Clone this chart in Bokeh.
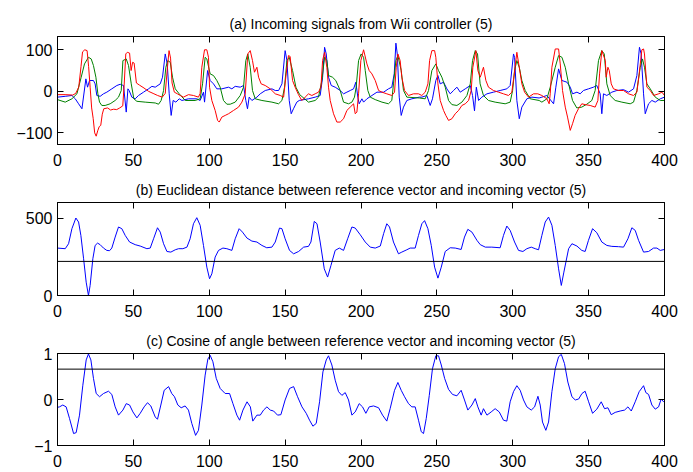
from bokeh.plotting import figure
from bokeh.layouts import column
from bokeh.models import LinearAxis, FixedTicker, Span, Range1d, CustomJSTickFormatter
from bokeh.embed import file_html
from bokeh.resources import INLINE

# ---------------- data ----------------
titles = ["(a) Incoming signals from Wii controller (5)",
          "(b) Euclidean distance between reference vector and incoming vector (5)",
          "(c) Cosine of angle between reference vector and incoming vector (5)"]
x_ticks = [0, 50, 100, 150, 200, 250, 300, 350, 400]
y_ticks_a = [-100, 0, 100]
y_ticks_b = [0, 500]
y_ticks_c = [-1, 0, 1]
dist_threshold = 220
cos_threshold = 0.66

red_x = [0, 5, 10, 12, 14, 15.5, 16.5, 18, 19.5, 20.5, 21.5, 22.5, 23.5, 24.5, 25.5, 26.5, 27.5, 28.5, 29.5, 30.5,
         33, 35, 37, 39, 41, 43, 44, 45, 46, 47.5, 48.5, 49.5, 50.5, 52, 54, 57, 60, 63, 66, 69, 71, 72.5, 73.5,
         74.5, 75.5, 77, 79, 80.9, 83.0, 86.3, 89.6, 92.9, 94.0, 95.1, 96.9, 98.4, 99.5, 100.2, 101.7, 103.9,
         105.5, 106.6, 108.3, 110.5, 112.7, 116.0, 119.3, 121.5, 123.7, 125.4, 127.0, 128.5, 129.8, 131.4, 132.5,
         134.2, 136.9, 140.2, 143.5, 146.8, 149.0, 150.7, 152.2, 153.3, 154.9, 156.6, 158.8, 161.0, 163.2, 165.4,
         167.6, 169.8, 172.0, 173.6, 174.7, 176.0, 177.5, 178.6, 179.7, 181.9, 184.1, 186.3, 188.5, 190.7, 192.9,
         195.1, 196.2, 197.3, 198.4, 199.9, 201.7, 203.9, 205.4, 207.2, 209.4, 211.6, 213.8, 217.0, 220.3, 222.1,
         223.2, 224.3, 225.8, 226.9, 228.7, 231.3, 234.6, 237.9, 240.1, 242.3, 244.1, 245.2, 246.7, 248.5, 249.3,
         250.7, 252.2, 254.4, 255.9, 257.7, 259.9, 262.1, 264.3, 266.5, 268.7, 270.9, 272.6, 273.7, 275.7, 277.0,
         278.6, 280.7, 282.3, 284.0, 287.3, 290.6, 293.9, 297.2, 299.4, 301.0, 302.7, 304.3, 306.0, 307.8, 310.4,
         313.7, 316.5, 319.2, 322.5, 324.0, 324.7, 325.8, 328.0, 330.2, 331.3, 332.8, 334.6, 336.1, 337.9, 339.4,
         341.1, 343.3, 345.5, 347.7, 351.0, 354.3, 356.1, 357.2, 358.7, 361.0, 361.6, 362.7, 363.6, 364.9, 366.4,
         369.7, 373.0, 376.3, 379.6, 381.8, 383.3, 385.1, 386.2, 386.8, 388.4, 390.6, 392.8, 396.1, 398.3, 400]
red_y = [-8, -8, -9, -5, 10, 60, 95, 100, 98, 60, 10, -40, -65, -100, -108, -95, -85, -82, -55, -42,
         -40, -45, -43, -44, -40, -35, 20, 90, 94, 92, 50, 70, 68, 20, 15, 8, 0, -5, -10, -14, -5, 60, 98,
         80, 20, -2, -6, -10, -14, -8, -10, -14, -5, 58, 100, 100, 82, 10, -22, -46,
         -70, -74, -62, -58, -54, -46, -38, -26, -6, 90, 98, 74, 46, 58, 34,
         18, 14, 6, -6, -10, -14, 42, 86, 84, 26, 10, -8, -22, -14, -6,
         -10, -6, -2, 10, 74, 94, 58, 10, -22, -54, -74, -74, -66, -46, -38,
         -30, -54, -50, -6, 74, 100, 66, 50, 42, 26, 2, -2, -6, -10, -2,
         58, 90, 74, 34, 2, -10, -6, -6, -10, -2, 18, 74, 98, 98, 82,
         18, -22, -46, -58, -70, -66, -54, -46, -34, -30, -22, 2, 58, 98, 50,
         34, 58, 26, 10, 2, -2, -6, -10, -2, 42, 94, 58, 18, -2, -14,
         -6, -6, -10, -18, -30, -6, 58, 102, 102, 66, 2, -38, -62, -94, -78,
         -58, -42, -30, -32, -34, -38, -22, 42, 98, 74, 34, 58, 50, 18, 6,
         2, 2, -6, -10, -2, 42, 100, 102, 90, 10, 2, -10, -6, -2, -10]

green_x = [0, 5.1, 9.5, 12.8, 15.6, 17.8, 20.4, 22.2, 23.7, 25.3, 26.6, 27.7, 29.2, 31.4, 34.7, 38.0, 40.2, 42.0,
           43.1, 45.3, 46.8, 48.6, 50.3, 52.3, 57.8, 64.4, 66.6, 68.3, 69.9, 71.4, 72.7, 74.3, 75.8, 77.6, 80.2,
           84.2, 90.7, 94.0, 95.6, 97.3, 98.4, 100.6, 102.8, 105.0, 107.2, 109.4, 111.6, 113.8, 117.1, 120.4, 122.6,
           124.1, 125.4, 127.0, 128.5, 130.3, 134.7, 141.3, 145.7, 147.9, 149.6, 151.2, 152.7, 154.9, 157.1, 159.6,
           165.4, 169.8, 172.0, 174.2, 176.0, 177.5, 178.6, 181.2, 183.4, 186.3, 188.5, 191.8, 194.0, 195.7, 196.8,
           198.4, 200.1, 201.7, 202.8, 204.5, 206.1, 209.4, 213.8, 218.1, 220.3, 221.4, 223.0, 224.3, 226.5, 228.0,
           230.2, 238.4, 242.3, 244.5, 246.7, 249.3, 251.1, 253.3, 255.5, 257.7, 259.9, 263.2, 266.5, 269.8, 272.0,
           273.5, 275.3, 276.8, 278.5, 280.7, 284.0, 288.4, 295.0, 298.3, 299.9, 301.2, 302.7, 304.3, 306.0, 308.2,
           311.5, 317.4, 319.2, 322.5, 324.7, 328.0, 330.2, 332.4, 334.6, 336.8, 339.4, 342.2, 345.5, 348.8, 352.1,
           354.3, 356.5, 358.7, 360.3, 362.0, 364.2, 367.5, 371.9, 377.4, 379.6, 381.8, 384.0, 385.5, 386.8, 388.4,
           390.6, 393.9, 397.2, 400]
green_y = [-20, -26, -18, -6, 34, 66, 82, 78, 62, 34, -6, -26, -34, -34, -30, -22, -14, 2,
           74, 78, 62, 18, -18, -24, -26, -28, -31, -22, 2, 58, 74, 70, 34, 6, -6,
           -22, -22, -18, 18, 82, 78, 42, 38, 26, 10, -22, -31, -31, -26, -10, 10,
           74, 90, 58, 2, -18, -22, -26, -30, -22, 10, 74, 82, 50, 10, -8,
           -26, -22, -14, 26, 82, 74, 38, 34, 26, 2, -26, -30, -26, -14, 10,
           74, 90, 82, 50, 2, -14, -20, -26, -30, -22, 18, 74, 86, 50, 2,
           -14, -16, -18, 2, 50, 66, 50, 34, 10, -22, -32, -34, -26, -10, 18,
           74, 98, 90, 18, -10, -22, -26, -30, -26, 2, 50, 74, 58, 26, 2,
           -18, -22, -26, -18, 10, 58, 86, 82, 58, 18, -22, -40, -38, -31, -22,
           2, 74, 98, 90, 18, -10, -22, -26, -30, -26, 2, 58, 78, 58, 18,
           6, -14, -22, -22]

blue_x = [0, 5.1, 9.5, 11.7, 13.9, 16.1, 18.7, 19.8, 21.1, 23.7, 24.8, 25.9, 28.1, 30.3, 32.5, 35.8, 39.1, 41.3,
          43.5, 45.3, 46.4, 47.2, 49.0, 51.2, 53.4, 56.7, 60.0, 62.2, 64.4, 67.7, 69.2, 71.0, 72.3, 73.6, 74.9,
          76.2, 78.0, 80.2, 82.0, 86.3, 91.8, 94.0, 96.2, 96.9, 98.9, 100.6, 102.8, 105.0, 108.3, 112.7, 114.9,
          117.1, 120.4, 122.6, 124.1, 125.2, 126.3, 128.1, 131.4, 133.6, 136.9, 141.3, 143.5, 145.7, 147.9, 150.0,
          151.2, 152.7, 154.0, 155.5, 157.7, 159.3, 165.4, 169.8, 173.1, 174.7, 176.0, 177.1, 178.6, 180.4, 183.0,
          186.3, 188.5, 190.7, 192.9, 195.1, 196.6, 197.9, 198.8, 200.6, 201.7, 203.9, 207.2, 210.5, 214.9, 218.1,
          220.3, 221.9, 223.0, 223.9, 225.2, 226.5, 228.0, 230.2, 233.5, 238.4, 240.1, 243.4, 245.6, 247.1, 249.3,
          250.7, 252.2, 254.4, 256.6, 258.8, 261.0, 263.2, 265.4, 268.7, 272.0, 273.5, 274.8, 276.0, 277.5, 279.6,
          283.0, 287.3, 291.7, 296.1, 298.3, 300.5, 301.2, 302.7, 304.3, 306.0, 309.3, 312.6, 317.4, 319.2, 322.5,
          326.9, 328.4, 330.2, 332.4, 335.7, 337.9, 339.4, 342.3, 344.4, 346.6, 349.9, 353.2, 355.4, 357.6, 358.7,
          359.8, 362.0, 365.3, 368.6, 373.0, 376.3, 379.6, 381.8, 383.5, 384.6, 386.2, 387.3, 389.5, 391.7, 393.9,
          397.2, 400]
blue_y = [-14, -12, -10, -18, -30, -42, 30, 10, 26, 26, 18, -10, -12, -6, -2, 6, 14, 17,
          14, -50, 6, 2, -14, -18, -10, -2, 6, 12, 10, 18, 34, 90, 66, -6, -58,
          -22, -26, -18, -22, -18, -18, -22, -2, -26, 50, 26, 18, 6, 6, 10, 6,
          12, 10, 14, -22, -42, -14, -22, -14, -6, 2, 6, 2, 2, 18, 98,
          74, -22, -54, -42, -26, -22, -18, -14, -10, 34, 106, 90, 34, 14, 10,
          2, -6, -2, 2, 6, 22, -14, -30, -18, -26, -18, -10, -2, -2, 6,
          10, 42, 116, 90, -14, -58, -38, -22, -18, -14, -14, -10, -34, -18, 26,
          38, 18, 22, 6, -6, 2, 10, -2, 6, 14, -10, -47, 10, -22, -14,
          -6, -2, 2, 6, 14, 90, 82, -22, -66, -38, -18, -14, -16, -14, -10,
          -30, 10, 54, 26, 22, 10, -6, -2, -6, 2, 6, 10, 14, -6, -54,
          -6, -10, -2, 2, 4, -2, 6, 38, 106, 90, -6, -54, -30, -22, -26,
          -18, -14]

dist_x = [0, 5.1, 7.3, 9.5, 12.1, 13.9, 15.4, 17.2, 18.9, 20.4, 21.5, 23.3, 24.8, 26.4, 28.1, 30.3, 32.5, 34.3,
          35.8, 38.0, 40.2, 42.4, 44.6, 47.5, 51.2, 54.5, 58.9, 61.1, 63.3, 65.9, 67.7, 69.9, 72.1, 74.7, 77.6,
          79.8, 82.6, 85.3, 87.4, 89.6, 91.8, 94.0, 96.2, 98.4, 100.2, 101.7, 103.9, 106.1, 109.0, 111.6, 114.9,
          117.1, 119.7, 121.9, 124.8, 128.1, 131.4, 134.7, 137.9, 141.3, 143.5, 146.3, 147.9, 150.0, 152.9, 155.6,
          158.9, 162.2, 165.4, 167.0, 169.2, 171.0, 173.1, 175.8, 178.0, 180.2, 183.0, 185.7, 188.5, 191.2, 194.0,
          196.2, 199.5, 202.8, 206.1, 209.4, 212.7, 214.9, 217.0, 218.8, 221.4, 224.7, 226.9, 230.2, 232.4, 235.7,
          237.9, 240.1, 241.9, 244.1, 246.3, 248.5, 250.7, 252.9, 255.5, 258.8, 262.1, 266.0, 268.2, 270.4, 273.1,
          276.4, 278.6, 281.9, 286.2, 291.7, 293.9, 296.1, 298.3, 301.2, 303.8, 306.7, 309.3, 312.2, 314.8, 317.0,
          319.2, 321.4, 323.6, 325.8, 328.0, 330.2, 332.0, 333.7, 336.8, 339.0, 342.3, 345.5, 347.7, 349.9, 352.6,
          355.4, 358.7, 362.0, 365.3, 369.7, 373.0, 375.9, 378.5, 380.7, 382.9, 386.2, 389.5, 392.8, 395.0, 397.2,
          400]
dist_y = [306, 302, 334, 431, 500, 474, 388, 237, 86, 0, 65, 237, 323, 338, 328, 306, 291, 289,
          306, 377, 442, 431, 388, 345, 328, 319, 302, 306, 366, 437, 409, 334, 284, 280, 295,
          302, 302, 312, 366, 463, 502, 453, 323, 183, 108, 140, 248, 291, 306, 302, 291,
          366, 431, 409, 371, 351, 345, 323, 308, 312, 345, 435, 431, 366, 291, 269,
          284, 312, 317, 345, 478, 463, 345, 172, 119, 194, 291, 306, 291, 366, 442,
          435, 392, 345, 312, 306, 319, 399, 463, 442, 345, 269, 280, 295, 306, 306,
          388, 463, 483, 431, 323, 183, 112, 183, 284, 308, 306, 297, 377, 427, 409,
          356, 328, 312, 312, 308, 388, 448, 420, 345, 291, 284, 302, 312, 302, 295,
          388, 474, 506, 453, 323, 172, 65, 151, 302, 334, 319, 291, 284, 356, 431,
          405, 345, 323, 317, 315, 312, 366, 437, 420, 356, 280, 284, 306, 306, 291,
          297]

cos_x = [0, 1.3, 3.5, 5.7, 7.9, 10.6, 12.3, 14.5, 16.7, 18.9, 20.4, 22.0, 23.7, 25.5, 27.7, 30.3, 33.6, 35.8,
         38.0, 40.2, 43.1, 45.3, 47.5, 49.7, 52.3, 54.5, 57.1, 59.3, 61.5, 64.4, 65.9, 68.1, 70.3, 73.2, 75.3,
         77.1, 79.3, 81.5, 84.1, 86.3, 88.5, 91.0, 92.9, 95.1, 97.3, 99.1, 100.6, 102.4, 104.6, 107.2, 110.5,
         113.4, 115.6, 118.2, 120.0, 122.2, 124.9, 127.1, 128.7, 131.4, 133.6, 135.8, 138.0, 140.2, 142.4, 145.0,
         147.2, 150.0, 152.9, 155.6, 158.2, 161.1, 163.9, 166.1, 168.3, 170.5, 172.7, 174.9, 177.1, 178.6, 180.8,
         183.0, 185.2, 187.4, 189.6, 191.8, 194.0, 196.2, 198.8, 201.0, 203.2, 205.4, 208.3, 211.6, 214.2, 217.0,
         219.2, 222.1, 224.3, 226.5, 228.7, 231.3, 233.5, 235.7, 237.9, 239.7, 241.2, 243.0, 245.0, 247.1, 249.3,
         251.1, 252.9, 255.1, 257.7, 260.3, 263.2, 266.0, 268.2, 270.4, 273.1, 275.3, 277.0, 279.2, 280.7, 283.0,
         285.8, 288.4, 291.1, 293.9, 296.1, 298.3, 300.5, 302.7, 304.9, 307.1, 309.3, 312.2, 314.4, 316.6, 318.1,
         319.6, 321.8, 323.6, 325.8, 328.0, 330.2, 332.0, 334.1, 336.3, 339.0, 341.2, 343.4, 345.6, 347.7, 350.0,
         352.6, 355.4, 358.3, 360.5, 362.7, 364.9, 367.5, 370.8, 373.7, 375.9, 378.1, 380.7, 383.3, 386.2, 387.7,
         389.5, 391.7, 393.9, 396.1, 397.8, 399.4, 400]
cos_y = [-0.17, -0.16, -0.12, -0.16, -0.41, -0.74, -0.72, -0.34, 0.31, 0.86, 0.99, 0.86, 0.46, 0.13, 0.06, 0.13,
         0.18, 0.11, -0.16, -0.34, -0.23, -0.09, -0.12, -0.27, -0.40, -0.30, -0.16, -0.07, -0.14, -0.38, -0.43,
         -0.12, 0.20, 0.28, 0.13, 0.06, -0.12, -0.18, -0.14, -0.23, -0.52, -0.78, -0.67, -0.12, 0.53, 0.88, 0.96,
         0.82, 0.46, 0.24, 0.13, 0.13, -0.09, -0.34, -0.45, -0.23, -0.05, -0.16, -0.47, -0.34, -0.34, -0.23,
         -0.16, -0.23, -0.25, -0.34, -0.33, -0.01, 0.24, 0.28, 0.06, -0.16, -0.30, -0.45, -0.58, -0.52, -0.05,
         0.60, 0.86, 0.95, 0.75, 0.42, 0.17, 0.09, 0.15, -0.01, -0.34, -0.27, -0.09, -0.16, -0.30, -0.16, -0.14,
         -0.18, -0.34, -0.47, -0.20, 0.20, 0.37, 0.20, 0.06, -0.09, -0.16, -0.16, -0.45, -0.70, -0.74, -0.41,
         0.09, 0.67, 0.95, 0.95, 0.75, 0.46, 0.22, 0.11, 0.08, 0.20, -0.01, -0.23, -0.12, 0.02, -0.16, -0.34,
         -0.20, -0.34, -0.27, -0.20, -0.27, -0.45, -0.47, -0.05, 0.17, 0.30, 0.20, -0.01, -0.16, -0.23, -0.16,
         0.07, -0.12, -0.49, -0.67, -0.49, 0.17, 0.67, 0.93, 0.98, 0.78, 0.38, 0.06, -0.01, 0.01, 0.13, 0.18,
         -0.05, -0.30, -0.21, -0.05, -0.20, -0.18, -0.33, -0.28, -0.25, -0.23, -0.16, -0.25, -0.05, 0.17, 0.30,
         0.15, 0.11, -0.12, -0.21, -0.16, 0.01, -0.05, -0.03]

FONT = "Liberation Sans"


def make_fig(title, top, fh, bottom, yr, yticks, overrides):
    p = figure(frame_width=607, frame_height=fh, min_border_left=57, min_border_right=20,
               min_border_top=top, min_border_bottom=bottom,
               x_range=Range1d(0, 400), y_range=Range1d(*yr),
               output_backend="svg", toolbar_location=None, title=title)
    p.title.align = "center"
    p.title.text_font = FONT
    p.title.text_font_size = "14px"
    p.title.text_font_style = "normal"
    p.title.text_color = "black"
    p.title.standoff = 10
    p.grid.visible = False
    p.outline_line_color = "black"
    p.outline_line_width = 1
    p.background_fill_color = "white"
    p.border_fill_color = "white"
    p.xaxis.ticker = FixedTicker(ticks=x_ticks)
    p.yaxis.ticker = FixedTicker(ticks=yticks)
    p.yaxis.major_label_overrides = overrides
    for ax in p.xaxis + p.yaxis:
        ax.major_tick_in = 6
        ax.major_tick_out = 0
        ax.minor_tick_line_color = None
        ax.axis_line_color = "black"
        ax.major_tick_line_color = "black"
        ax.major_label_text_font = FONT
        ax.major_label_text_font_size = "16px"
        ax.major_label_text_color = "black"
    p.xaxis.major_label_standoff = 9
    p.yaxis.major_label_standoff = 5
    blank = CustomJSTickFormatter(code="return ''")
    top_ax = LinearAxis(ticker=FixedTicker(ticks=x_ticks), formatter=blank,
                        major_tick_in=6, major_tick_out=0, minor_tick_line_color=None,
                        major_label_standoff=0, major_label_text_font_size="1px")
    right_ax = LinearAxis(ticker=FixedTicker(ticks=yticks), formatter=blank,
                          major_tick_in=6, major_tick_out=0, minor_tick_line_color=None,
                          major_label_standoff=0, major_label_text_font_size="1px")
    p.add_layout(top_ax, "above")
    p.add_layout(right_ax, "right")
    return p


p1 = make_fig(titles[0], 36, 108, 28, (-128, 132), y_ticks_a, {-100: "\u2212100"})
p1.line(blue_x, blue_y, line_color="#0000ff", line_width=1)
p1.line(green_x, green_y, line_color="#008000", line_width=1)
p1.line(red_x, red_y, line_color="#ff0000", line_width=1)

p2 = make_fig(titles[1], 30, 93, 28, (0, 600), y_ticks_b, {})
p2.add_layout(Span(location=dist_threshold, dimension="width", line_color="black", line_width=1))
p2.line(dist_x, dist_y, line_color="#0000ff", line_width=1)

p3 = make_fig(titles[2], 30, 92, 26, (-1, 1), y_ticks_c, {-1: "\u22121"})
p3.add_layout(Span(location=cos_threshold, dimension="width", line_color="black", line_width=1))
p3.line(cos_x, cos_y, line_color="#0000ff", line_width=1)

layout = column(p1, p2, p3, spacing=0)
open("out.html", "w").write(file_html(layout, INLINE))
